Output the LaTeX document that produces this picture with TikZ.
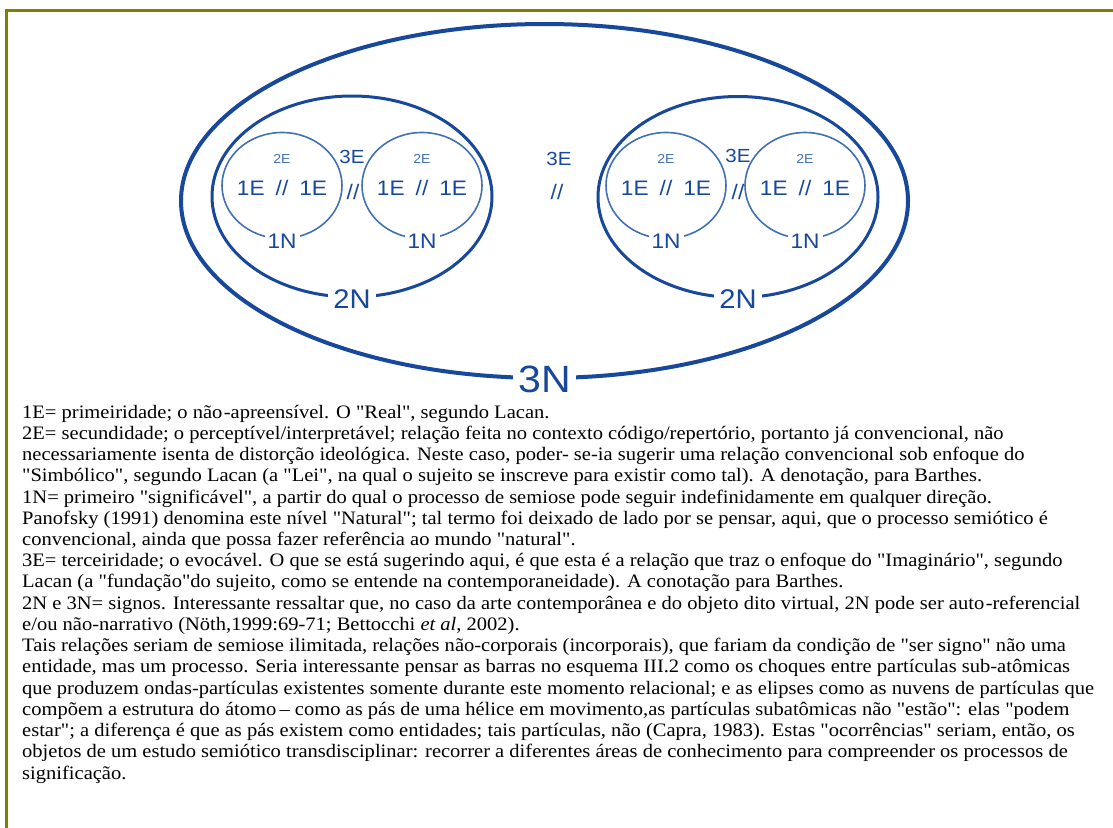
\documentclass[tikz,border=0pt]{standalone}
\usepackage{fontspec}
\setmainfont{Liberation Serif}[Ligatures=TeXOff, FakeStretch=1.08]
\newfontfamily\diagfont[FakeStretch=1.08]{Liberation Sans}
\usetikzlibrary{shapes.geometric}
\definecolor{frameolive}{RGB}{128,128,0}
\definecolor{dblue}{RGB}{24,72,156}
\definecolor{lblue}{RGB}{66,112,180}
\begin{document}
\begin{tikzpicture}[x=1pt,y=-1pt,
  ring/.style={ellipse, draw=dblue, inner sep=0pt, outer sep=0pt},
  bigring/.style={ring, line width=4pt, minimum width=727pt, minimum height=354pt},
  midring/.style={ring, line width=3pt, minimum width=280pt, minimum height=201pt},
  smallring/.style={ring, draw=lblue, line width=1.6pt, minimum width=120pt, minimum height=106pt},
  dlbl/.style={text=dblue, inner sep=0pt, font=\diagfont\fontsize{#1}{#1}\selectfont},
  gaplbl/.style={dlbl=#1, fill=white, inner xsep=5pt, inner ysep=2pt},
  ln/.style={anchor=base west, inner sep=0pt, font=\fontsize{19}{21}\selectfont}
]
\useasboundingbox (0,0) rectangle (1113,827);
% frame
\draw[frameolive, line width=3pt, line join=miter] (6.8,840) -- (6.8,10.5) -- (1125,10.5);

% ellipses
\node[bigring] (e3) at (544.5,201) {};
\node[midring] (e2a) at (352,196.5) {};
\node[midring] (e2b) at (738,197) {};
\node[smallring] (c1) at (282,185.5) {};
\node[smallring] (c2) at (422,185.5) {};
\node[smallring] (c3) at (666,185.5) {};
\node[smallring] (c4) at (805,185.5) {};

% labels on the curves
\node[gaplbl=38] (l3N) at ([yshift=-1pt]e3.south) {3N};
\node[gaplbl=27] (l2Na) at ([yshift=-2pt]e2a.south) {2N};
\node[gaplbl=27] (l2Nb) at ([yshift=-2pt]e2b.south) {2N};
\foreach \c in {c1,c2,c3,c4}{
  \node[gaplbl=21, inner xsep=3pt] (l1N\c) at ([yshift=-3pt]\c.south) {1N};
  \node[dlbl=13, text=lblue] (l2E\c) at ([yshift=27pt]\c.center) {2E};
  \node[dlbl=21] (l1E\c) at ([yshift=-2pt]\c.center) {1E\hspace{11pt}//\hspace{11pt}1E};
}

% 3E // between circles and between ellipses
\node[dlbl=19] (t3Ea) at (352,157) {3E};
\node[dlbl=21] (s3Ea) at (353,192) {//};
\node[dlbl=19] (t3Eb) at (738,156) {3E};
\node[dlbl=21] (s3Eb) at (738,192) {//};
\node[dlbl=19] (t3Em) at (559,159) {3E};
\node[dlbl=21] (s3Em) at (557,192) {//};

% notes
\node[ln] (n1)  at (22,418.0) {1E= primeiridade; o não\hspace{1.5pt}-apreensível. O "Real", segundo Lacan.};
\node[ln] (n2)  at (22,439.2) {2E= secundidade; o perceptível/interpretável; relação feita no contexto código/repertório, portanto já convencional, não};
\node[ln] (n3)  at (22,460.5) {necessariamente isenta de distorção ideológica. Neste caso, poder- se-ia sugerir uma relação convencional sob enfoque do};
\node[ln] (n4)  at (22,481.7) {"Simbólico", segundo Lacan (a "Lei", na qual o sujeito se inscreve para existir como tal). A denotação, para Barthes.};
\node[ln] (n5)  at (22,503.0) {1N= primeiro "significável", a partir do qual o processo de semiose pode seguir indefinidamente em qualquer direção.};
\node[ln] (n6)  at (22,524.2) {Panofsky (1991) denomina este nível "Natural"; tal termo foi deixado de lado por se pensar, aqui, que o processo semiótico é};
\node[ln] (n7)  at (22,545.4) {convencional, ainda que possa fazer referência ao mundo "natural".};
\node[ln] (n8)  at (22,566.7) {3E= terceiridade; o evocável. O que se está sugerindo aqui, é que esta é a relação que traz o enfoque do "Imaginário", segundo};
\node[ln] (n9)  at (22,587.9) {Lacan (a "fundação"do sujeito, como se entende na contemporaneidade). A conotação para Barthes.};
\node[ln] (n10) at (22,609.2) {2N e 3N= signos. Interessante ressaltar que, no caso da arte contemporânea e do objeto dito virtual, 2N pode ser auto\hspace{1.5pt}-referencial};
\node[ln] (n11) at (22,630.4) {e/ou não-narrativo (Nöth,1999:69-71; Bettocchi \textit{et al}, 2002).};
\node[ln] (n12) at (22,651.6) {Tais relações seriam de semiose ilimitada, relações não-corporais (incorporais), que fariam da condição de "ser signo" não uma};
\node[ln] (n13) at (22,672.9) {entidade, mas um processo. Seria interessante pensar as barras no esquema III.2 como os choques entre partículas sub-atômicas};
\node[ln] (n14) at (22,694.1) {que produzem ondas-partículas existentes somente durante este momento relacional; e as elipses como as nuvens de partículas que};
\node[ln] (n15) at (22,715.4) {compõem a estrutura do átomo\,– como as pás de uma hélice em movimento,as partículas subatômicas não "estão": elas "podem};
\node[ln] (n16) at (22,736.6) {estar"; a diferença é que as pás existem como entidades; tais partículas, não (Capra, 1983). Estas "ocorrências" seriam, então, os};
\node[ln] (n17) at (22,757.8) {objetos de um estudo semiótico transdisciplinar: recorrer a diferentes áreas de conhecimento para compreender os processos de};
\node[ln] (n18) at (22,779.1) {significação.};
\end{tikzpicture}
\end{document}
